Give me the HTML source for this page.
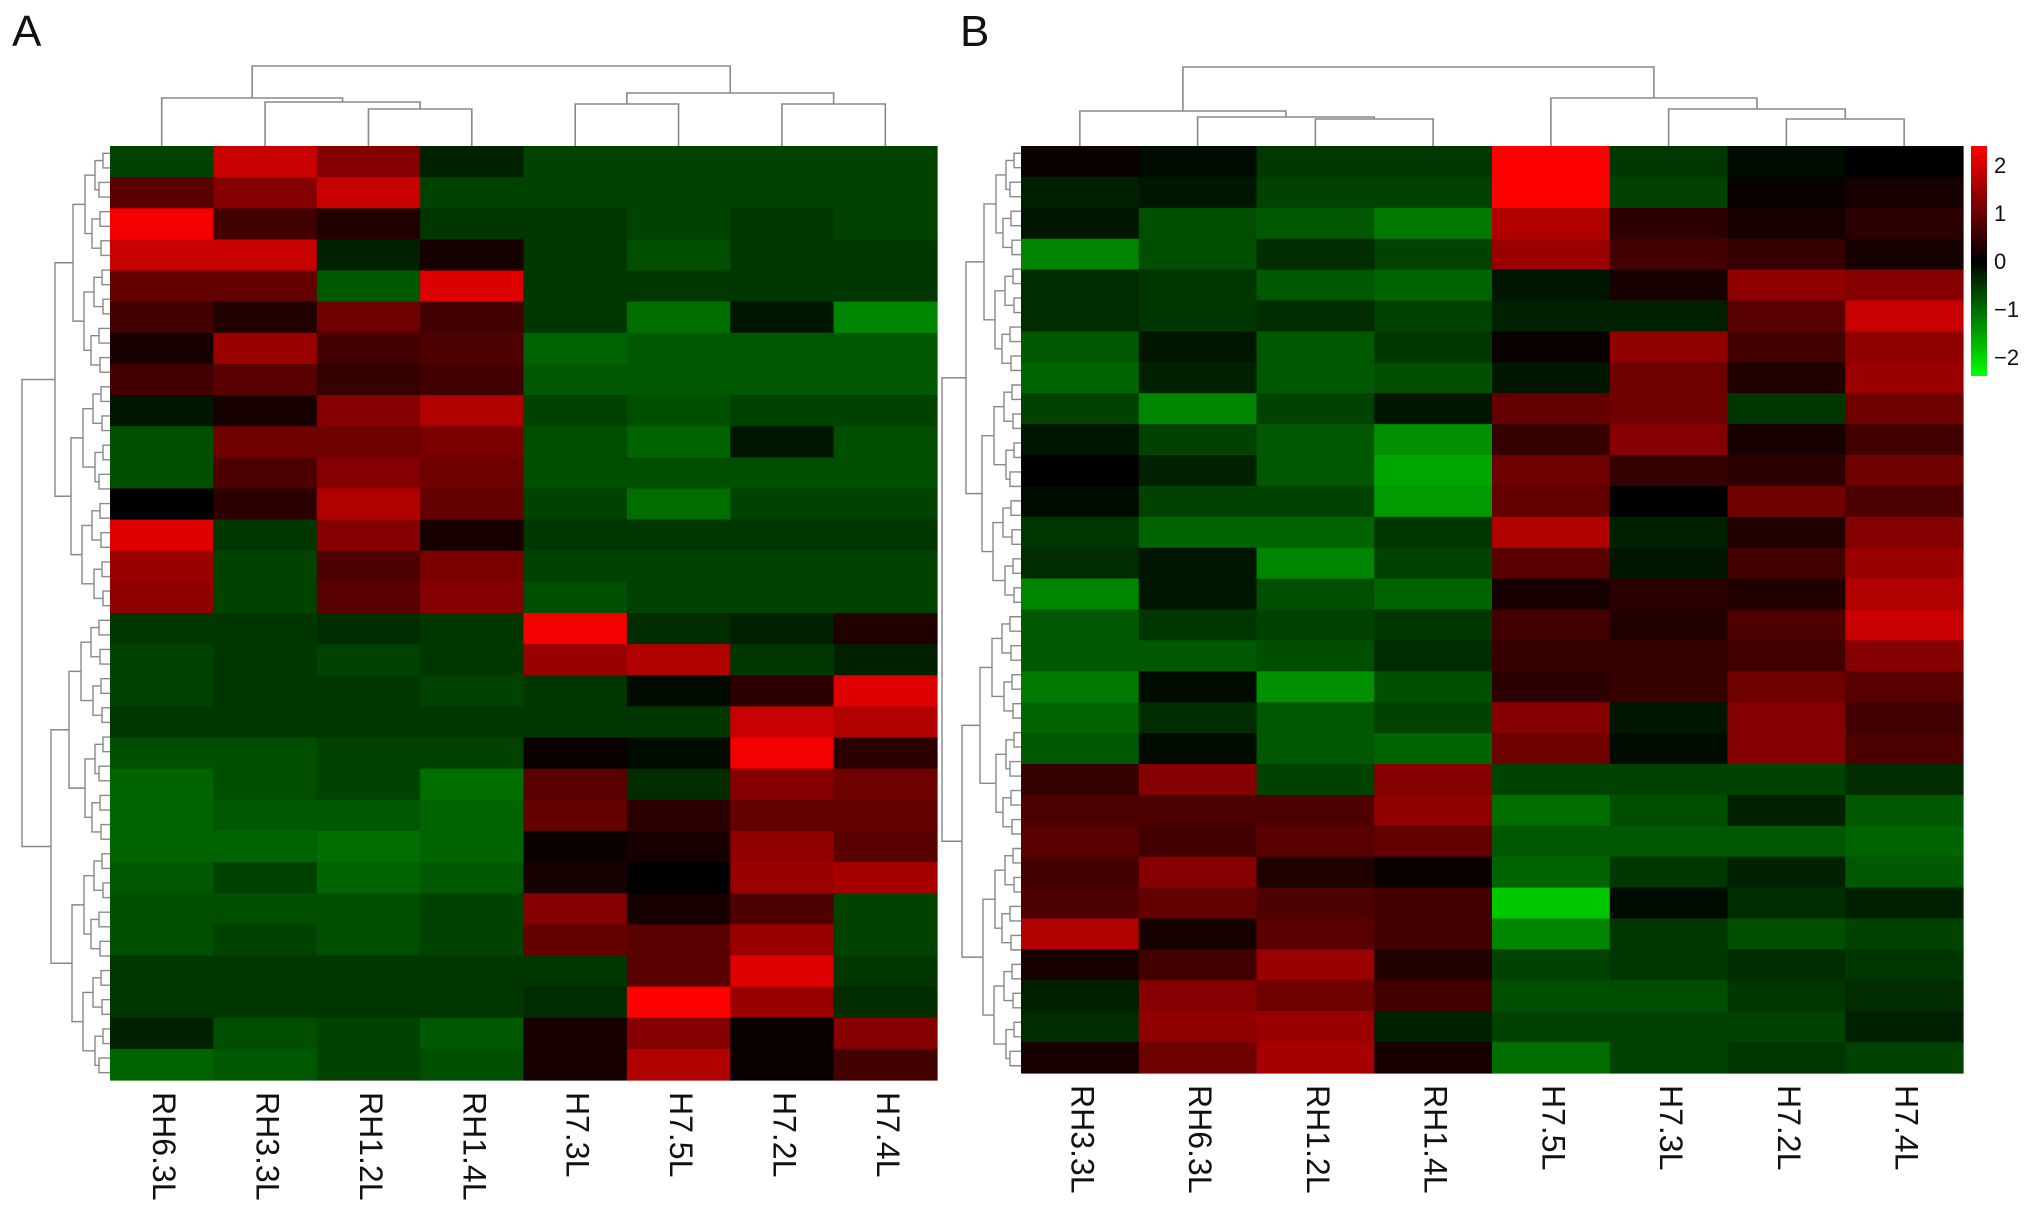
<!DOCTYPE html>
<html><head><meta charset="utf-8">
<style>
html,body{margin:0;padding:0;background:#fff;}
svg{display:block;font-family:"Liberation Sans",sans-serif;}
</style></head>
<body>
<svg id="fig" width="2032" height="1210" viewBox="0 0 2032 1210" xmlns="http://www.w3.org/2000/svg">
<text x="12" y="46" font-size="44" fill="#111">A</text>
<text x="960" y="46" font-size="44" fill="#111">B</text>
<g id="gA"></g>
<g id="gB"></g>
<defs><linearGradient id="cbg" x1="0" y1="0" x2="0" y2="1">
<stop offset="0" stop-color="#ff0000"/><stop offset="0.5" stop-color="#000"/><stop offset="1" stop-color="#00ff00"/></linearGradient></defs>
<rect x="1971" y="146" width="16" height="230" fill="url(#cbg)"/>
<g id="cbl"></g>
</svg>
<script>
const colsA = ["RH6.3L","RH3.3L","RH1.2L","RH1.4L","H7.3L","H7.5L","H7.2L","H7.4L"];
const valsA = [
[-0.6,1.8,1.2,-0.3,-0.6,-0.6,-0.6,-0.6],
[0.8,1.2,1.8,-0.6,-0.6,-0.6,-0.6,-0.6],
[2.2,0.6,0.3,-0.5,-0.5,-0.6,-0.5,-0.6],
[1.8,1.8,-0.3,0.2,-0.5,-0.7,-0.5,-0.5],
[0.9,0.9,-0.8,2.0,-0.5,-0.5,-0.5,-0.5],
[0.6,0.3,1.0,0.6,-0.5,-1.0,-0.2,-1.2],
[0.2,1.4,0.6,0.7,-0.9,-0.8,-0.8,-0.8],
[0.6,0.8,0.5,0.6,-0.8,-0.8,-0.8,-0.8],
[-0.2,0.2,1.2,1.6,-0.6,-0.7,-0.6,-0.6],
[-0.7,1.0,1.0,1.1,-0.7,-0.9,-0.2,-0.7],
[-0.7,0.7,1.2,1.0,-0.7,-0.7,-0.7,-0.7],
[0.0,0.4,1.6,0.9,-0.6,-1.0,-0.6,-0.6],
[2.0,-0.5,1.2,0.2,-0.5,-0.5,-0.5,-0.5],
[1.4,-0.6,0.7,1.1,-0.6,-0.6,-0.6,-0.6],
[1.3,-0.6,0.8,1.2,-0.7,-0.6,-0.6,-0.6],
[-0.5,-0.5,-0.4,-0.5,2.2,-0.4,-0.3,0.3],
[-0.6,-0.5,-0.6,-0.5,1.4,1.6,-0.5,-0.3],
[-0.6,-0.5,-0.5,-0.6,-0.5,-0.1,0.4,2.0],
[-0.5,-0.5,-0.5,-0.5,-0.5,-0.5,1.8,1.6],
[-0.7,-0.7,-0.6,-0.6,0.1,-0.1,2.2,0.4],
[-0.9,-0.7,-0.6,-1.0,0.8,-0.4,1.2,1.0],
[-0.9,-0.8,-0.8,-0.9,0.9,0.4,0.9,0.9],
[-0.9,-0.9,-1.0,-0.9,0.1,0.2,1.3,0.8],
[-0.8,-0.6,-0.9,-0.8,0.2,0.0,1.4,1.5],
[-0.7,-0.7,-0.7,-0.6,1.2,0.2,0.7,-0.6],
[-0.7,-0.6,-0.7,-0.6,0.9,0.8,1.4,-0.6],
[-0.5,-0.5,-0.5,-0.5,-0.5,0.8,2.0,-0.5],
[-0.5,-0.5,-0.5,-0.5,-0.4,2.3,1.4,-0.4],
[-0.3,-0.7,-0.6,-0.8,0.2,1.2,0.1,1.2],
[-0.9,-0.8,-0.6,-0.7,0.2,1.6,0.1,0.6]
];
const colsB = ["RH3.3L","RH6.3L","RH1.2L","RH1.4L","H7.5L","H7.3L","H7.2L","H7.4L"];
const valsB = [
[0.1,-0.1,-0.5,-0.5,2.5,-0.5,-0.1,0.0],
[-0.3,-0.2,-0.6,-0.6,2.5,-0.6,0.1,0.2],
[-0.2,-0.7,-0.8,-1.1,1.6,0.4,0.2,0.4],
[-1.2,-0.7,-0.4,-0.6,1.4,0.6,0.5,0.2],
[-0.4,-0.5,-0.8,-0.9,-0.2,0.2,1.3,1.2],
[-0.4,-0.5,-0.4,-0.6,-0.3,-0.3,0.8,1.8],
[-0.8,-0.2,-0.8,-0.5,0.1,1.3,0.6,1.3],
[-0.9,-0.3,-0.8,-0.7,-0.2,1.0,0.3,1.4],
[-0.6,-1.2,-0.6,-0.2,0.9,1.0,-0.5,1.0],
[-0.2,-0.6,-0.8,-1.3,0.5,1.2,0.2,0.6],
[0.0,-0.3,-0.8,-1.5,1.0,0.5,0.4,1.0],
[-0.1,-0.6,-0.6,-1.4,0.9,0.0,1.0,0.7],
[-0.5,-0.9,-0.9,-0.5,1.6,-0.3,0.3,1.2],
[-0.4,-0.2,-1.2,-0.6,0.8,-0.2,0.6,1.4],
[-1.2,-0.2,-0.7,-0.9,0.2,0.4,0.3,1.6],
[-0.8,-0.5,-0.6,-0.5,0.6,0.3,0.7,1.8],
[-0.8,-0.8,-0.7,-0.4,0.5,0.5,0.6,1.2],
[-1.1,-0.1,-1.3,-0.7,0.4,0.5,1.0,0.8],
[-0.9,-0.4,-0.8,-0.6,1.2,-0.2,1.2,0.6],
[-0.8,-0.1,-0.8,-0.9,1.0,-0.1,1.2,0.7],
[0.5,1.2,-0.6,1.2,-0.6,-0.6,-0.6,-0.4],
[0.7,0.7,0.7,1.3,-1.0,-0.7,-0.3,-0.8],
[0.8,0.6,0.8,0.9,-0.8,-0.8,-0.8,-0.9],
[0.6,1.2,0.3,0.1,-0.9,-0.5,-0.3,-0.8],
[0.7,0.9,0.7,0.6,-1.8,-0.1,-0.4,-0.3],
[1.6,0.2,0.8,0.6,-1.2,-0.5,-0.7,-0.6],
[0.2,0.6,1.4,0.3,-0.6,-0.5,-0.4,-0.5],
[-0.3,1.2,1.0,0.6,-0.7,-0.7,-0.5,-0.4],
[-0.4,1.3,1.4,-0.3,-0.6,-0.6,-0.6,-0.3],
[0.2,1.0,1.5,0.2,-1.0,-0.6,-0.5,-0.6]
];
const scaleTicks = [2,1,0,-1,-2];
const dendA = [[2,3,37],[1,8,44],[0,9,48],[4,5,42],[6,7,42],[11,12,53],[10,13,80]];
const dendB = [[2,3,27],[1,8,29],[0,9,35],[6,7,27],[5,11,37],[4,12,48],[10,13,79]];

const NS="http://www.w3.org/2000/svg";
function mk(tag,attrs,parent){const e=document.createElementNS(NS,tag);for(const k in attrs)e.setAttribute(k,attrs[k]);parent.appendChild(e);return e;}
function color(v){const t=Math.min(1,Math.abs(v)/2.3);const c=Math.round(t*255);return v>=0?`rgb(${c},0,0)`:`rgb(0,${c},0)`;}

function drawPanel(g,cols,vals,dend,x0,x1,y0,y1,rdLeft){
  const nC=cols.length,nR=vals.length;
  const xs=c=>x0+(x1-x0)*c/nC, ys=r=>y0+(y1-y0)*r/nR;
  const cw=(x1-x0)/nC, rh=(y1-y0)/nR;
  vals.forEach((row,r)=>row.forEach((v,c)=>{
    const el=mk('rect',{x:xs(c),y:ys(r),width:cw+0.6,height:rh+0.6,fill:color(v)},g);
    
    
  }));
  cols.forEach((name,c)=>{
    const cx=xs(c)+cw/2, ty=y1+12;
    const t=mk('text',{x:cx,y:ty,'font-size':32,fill:'#111',transform:`rotate(90 ${cx} ${ty})`,'dominant-baseline':'middle'},g);
    t.textContent=name;
    
    
  });
  const nodes=cols.map((_,c)=>({x:xs(c)+cw/2,y:y0}));
  const dg=mk('g',{stroke:'#888','stroke-width':1.6,fill:'none'},g);
  
  
  dend.forEach(([a,b,h])=>{
    const A=nodes[a],B=nodes[b],yy=y0-h;
    mk('path',{d:`M${A.x},${A.y}V${yy}H${B.x}V${B.y}`},dg);
    nodes.push({x:(A.x+B.x)/2,y:yy});
  });
  const rg=mk('g',{stroke:'#888','stroke-width':1.4,fill:'none'},g);
  
  
  const depthW=[0,7,15,25,37,55,x0-rdLeft];
  const nL=64;
  function rec(lo,hi,lvl){
    if(hi-lo===1){return {y:y0+(y1-y0)*(lo+0.5)/nL,x:x0};}
    const mid=(lo+hi)>>1;
    const a=rec(lo,mid,lvl-1),b=rec(mid,hi,lvl-1);
    const xx=x0-depthW[lvl]-((lo*7)%5);
    mk('path',{d:`M${a.x},${a.y}H${xx}V${b.y}H${b.x}`},rg);
    return {x:xx,y:(a.y+b.y)/2};
  }
  rec(0,nL,6);
}
drawPanel(document.getElementById('gA'),colsA,valsA,dendA,110,937,146,1080,22);
drawPanel(document.getElementById('gB'),colsB,valsB,dendB,1021,1963,146,1073,942);
const cbl=document.getElementById('cbl');
scaleTicks.forEach(v=>{
  const y=146+ (2.4-v)/4.8*230;
  const t=mk('text',{x:1994,y:y+8,'font-size':22,fill:'#111'},cbl);
  t.textContent=v<0?'\u2212'+Math.abs(v):String(v);
  
  
});
</script>
</body></html>
